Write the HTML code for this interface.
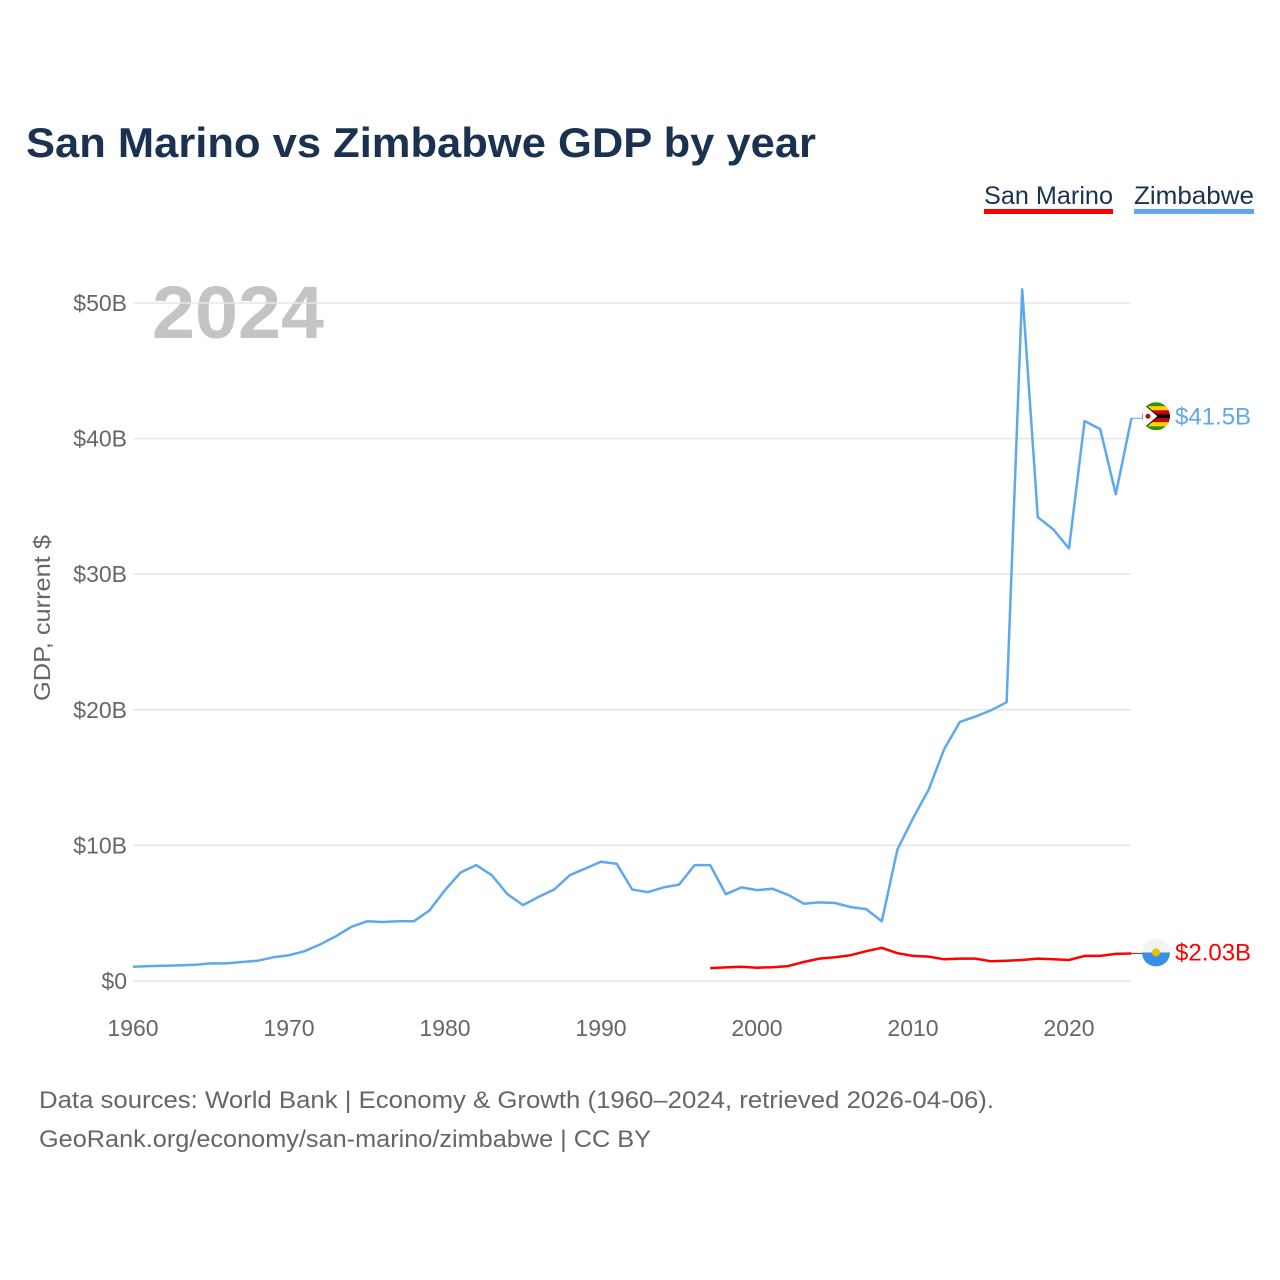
<!DOCTYPE html>
<html><head><meta charset="utf-8"><style>
html,body{margin:0;padding:0;background:#fff;}
svg{display:block;font-family:"Liberation Sans",sans-serif;}
</style></head><body>
<svg id="chart" width="1280" height="1280" viewBox="0 0 1280 1280">
<text x="26" y="157" font-size="42" font-weight="bold" fill="#1a3150" textLength="790" lengthAdjust="spacingAndGlyphs">San Marino vs Zimbabwe GDP by year</text>
<g>
<text x="984" y="204" font-size="25" fill="#1a3150" textLength="129" lengthAdjust="spacingAndGlyphs">San Marino</text>
<rect x="984" y="209" width="129" height="5" fill="#ff0000"></rect></g>
<g>
<text x="1134" y="204" font-size="25" fill="#1a3150" textLength="120" lengthAdjust="spacingAndGlyphs">Zimbabwe</text>
<rect x="1134" y="209" width="120" height="5" fill="#5ea8ee"></rect></g>
<text x="152" y="338" font-size="74" font-weight="bold" fill="#c4c4c4" textLength="172" lengthAdjust="spacingAndGlyphs">2024</text>
<text transform="translate(50,618) rotate(-90)" text-anchor="middle" font-size="23" fill="#666" textLength="166" lengthAdjust="spacingAndGlyphs">GDP, current $</text>
<g id="grid"></g><g id="yticks"></g><g id="xticks"></g><g id="series"></g>
<text x="39" y="1108" font-size="24" fill="#666" textLength="955" lengthAdjust="spacingAndGlyphs">Data sources: World Bank | Economy &amp; Growth (1960–2024, retrieved 2026-04-06).</text>
<text x="39" y="1147" font-size="24" fill="#666" textLength="612" lengthAdjust="spacingAndGlyphs">GeoRank.org/economy/san-marino/zimbabwe | CC BY</text>
</svg>
<script>
const yTicks=[0,10,20,30,40,50];
const yTickLabels=["$0","$10B","$20B","$30B","$40B","$50B"];
const xTicks=[1960,1970,1980,1990,2000,2010,2020];
const zwYears=[];for(let y=1960;y<=2024;y++)zwYears.push(y);
const zwValues=[1.05,1.1,1.12,1.15,1.2,1.3,1.3,1.4,1.5,1.75,1.9,2.2,2.7,3.3,4.0,4.4,4.35,4.4,4.4,5.2,6.7,8.0,8.55,7.8,6.4,5.6,6.2,6.75,7.8,8.3,8.8,8.65,6.75,6.55,6.9,7.1,8.55,8.55,6.4,6.9,6.7,6.8,6.35,5.7,5.8,5.75,5.45,5.3,4.4,9.7,12.0,14.1,17.1,19.1,19.5,19.96,20.55,51.0,34.2,33.3,31.9,41.3,40.7,35.9,41.5];
const smYears=[];for(let y=1997;y<=2024;y++)smYears.push(y);
const smValues=[0.95,1.0,1.05,0.98,1.02,1.1,1.4,1.65,1.75,1.9,2.2,2.45,2.05,1.85,1.8,1.6,1.65,1.65,1.45,1.5,1.55,1.65,1.6,1.55,1.85,1.85,2.0,2.03];
const NS='http://www.w3.org/2000/svg';
const xs=y=>133+(y-1960)*15.6;
const ys=v=>981-v*13.56;
function mk(tag,attrs,parent){const e=document.createElementNS(NS,tag);for(const k in attrs)e.setAttribute(k,attrs[k]);parent.appendChild(e);return e;}
const grid=document.getElementById('grid'),yt=document.getElementById('yticks'),xt=document.getElementById('xticks'),ser=document.getElementById('series');
yTicks.forEach((v,i)=>{
 const l=mk('line',{x1:133,x2:1131,y1:ys(v),y2:ys(v),stroke:'#e6e6e6','stroke-width':1.5},grid);
 
 
 const t=mk('text',{x:127,y:ys(v)+8,'text-anchor':'end','font-size':23,fill:'#666'},yt);
 t.textContent=yTickLabels[i];
 
 
});
xTicks.forEach(y=>{
 const t=mk('text',{x:xs(y),y:1036,'text-anchor':'middle','font-size':23,fill:'#666'},xt);
 t.textContent=y;
 
 
});
function line(years,vals,color,name){
 const d=years.map((y,i)=>(i?'L':'M')+xs(y).toFixed(1)+','+ys(vals[i]).toFixed(1)).join('');
 const p=mk('path',{d:d,fill:'none',stroke:color,'stroke-width':2.5,'stroke-linejoin':'round'},ser);
 
 
}
line(zwYears,zwValues,'#5ea8ee','zimbabwe-line');
line(smYears,smValues,'#ff0000','san-marino-line');
function endLabel(years,vals,color,label,name,flag,dy){
 const x=xs(years[years.length-1]),y=ys(vals[vals.length-1]);
 const c=mk('line',{x1:x,x2:1146,y1:y,y2:y,stroke:color,'stroke-width':1},ser);
 
 
 const g=mk('g',{},ser);
 
 
 flag(g,1156,y+dy);
 const t=mk('text',{x:1175,y:y+dy+8,'font-size':24,fill:color},ser);
 t.textContent=label;
 
 
}
endLabel(zwYears,zwValues,'#5ea8ee','$41.5B','zimbabwe',(g,cx,cy)=>{
 const cols=['#319208','#ffd200','#d40000','#000','#d40000','#ffd200','#319208'];
 const cp=mk('clipPath',{id:'zwclip'},g);mk('circle',{cx:cx,cy:cy,r:14},cp);
 const gg=mk('g',{'clip-path':'url(#zwclip)'},g);
 cols.forEach((c,i)=>mk('rect',{x:cx-14,y:cy-14+i*4,width:28,height:4.1,fill:c},gg));
 mk('polygon',{points:`${cx-14},${cy-14} ${cx+2},${cy} ${cx-14},${cy+14}`,fill:'#fff',stroke:'#000','stroke-width':1},gg);
 mk('circle',{cx:cx-8,cy:cy,r:2.5,fill:'#d40000'},gg);
},-2);
endLabel(smYears,smValues,'#ff0000','$2.03B','san-marino',(g,cx,cy)=>{
 const cp=mk('clipPath',{id:'smclip'},g);mk('circle',{cx:cx,cy:cy,r:14},cp);
 const gg=mk('g',{'clip-path':'url(#smclip)'},g);
 mk('rect',{x:cx-14,y:cy-14,width:28,height:14,fill:'#f2f2f2'},gg);
 mk('rect',{x:cx-14,y:cy,width:28,height:14,fill:'#3a8ee6'},gg);
 mk('circle',{cx:cx,cy:cy,r:4,fill:'#e6c200'},gg);
},-1);
</script>
</body></html>
